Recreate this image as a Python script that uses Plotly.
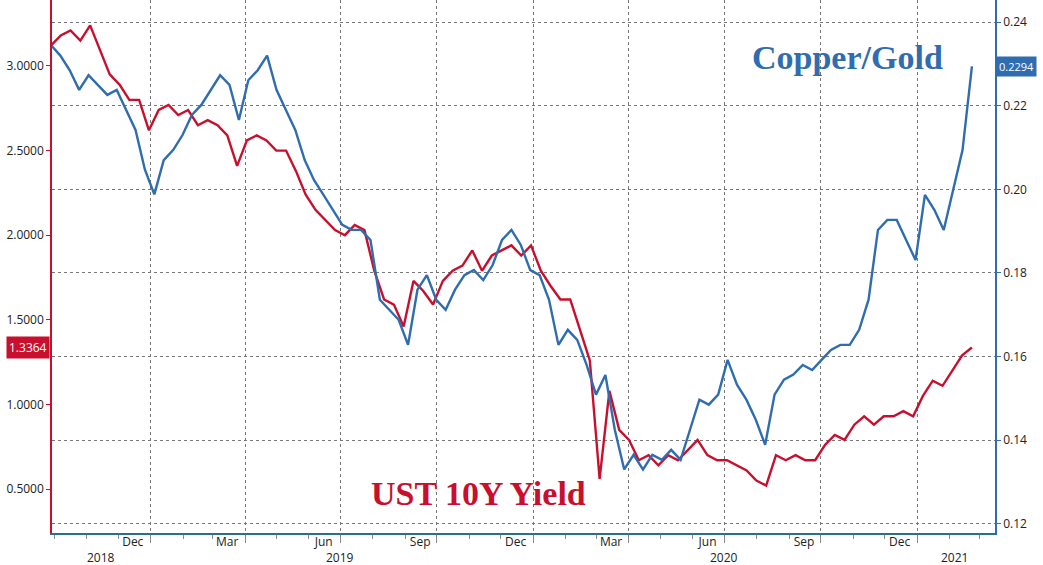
import pandas as pd
import plotly.graph_objects as go

# UST 10Y yield, roughly every 10 days from Oct 2018 to late Feb 2021
ust_10y = [3.12, 3.18, 3.21, 3.15, 3.24, 3.09, 2.95, 2.89, 2.80, 2.80, 2.62, 2.74, 2.77, 2.71,
           2.74, 2.65, 2.68, 2.65, 2.59, 2.41, 2.56, 2.59, 2.56, 2.50, 2.50, 2.38, 2.24, 2.15,
           2.09, 2.03, 2.00, 2.06, 2.03, 1.79, 1.62, 1.59, 1.46, 1.73, 1.67, 1.59, 1.73, 1.79,
           1.82, 1.91, 1.79, 1.88, 1.91, 1.94, 1.88, 1.94, 1.79, 1.70, 1.62, 1.62, 1.44, 1.26,
           0.56, 1.08, 0.85, 0.79, 0.67, 0.70, 0.64, 0.70, 0.67, 0.73, 0.79, 0.70, 0.67, 0.67,
           0.64, 0.61, 0.55, 0.52, 0.70, 0.67, 0.70, 0.67, 0.67, 0.76, 0.82, 0.79, 0.88, 0.93,
           0.88, 0.93, 0.93, 0.96, 0.93, 1.05, 1.14, 1.11, 1.20, 1.29, 1.3364]

# Copper / gold ratio
copper_gold = [0.2345, 0.2320, 0.2285, 0.2238, 0.2273, 0.2250, 0.2226, 0.2238, 0.2190, 0.2142,
               0.2047, 0.1988, 0.2070, 0.2094, 0.2130, 0.2178, 0.2202, 0.2238, 0.2273, 0.2250,
               0.2166, 0.2261, 0.2285, 0.2320, 0.2238, 0.2190, 0.2142, 0.2070, 0.2022, 0.1987,
               0.1951, 0.1915, 0.1903, 0.1903, 0.1879, 0.1736, 0.1712, 0.1688, 0.1628, 0.1760,
               0.1795, 0.1736, 0.1712, 0.1760, 0.1795, 0.1807, 0.1783, 0.1819, 0.1879, 0.1903,
               0.1867, 0.1807, 0.1795, 0.1736, 0.1628, 0.1664, 0.1640, 0.1580, 0.1509, 0.1556,
               0.1425, 0.1330, 0.1365, 0.1330, 0.1365, 0.1353, 0.1377, 0.1353, 0.1425, 0.1497,
               0.1485, 0.1509, 0.1592, 0.1533, 0.1497, 0.1449, 0.1389, 0.1509, 0.1545, 0.1557,
               0.1580, 0.1568, 0.1592, 0.1616, 0.1628, 0.1628, 0.1664, 0.1736, 0.1903, 0.1927,
               0.1927, 0.1879, 0.1831, 0.1987, 0.1951, 0.1903, 0.1998, 0.2094, 0.2294]

start, end = '2018-09-28', '2021-02-22'
ust_dates = pd.date_range(start, end, periods=len(ust_10y))
cg_dates = pd.date_range(start, end, periods=len(copper_gold))

month_labels = ['Dec', 'Mar', 'Jun', 'Sep', 'Dec', 'Mar', 'Jun', 'Sep', 'Dec']
month_pos = ['2018-12-15', '2019-03-15', '2019-06-15', '2019-09-15', '2019-12-15',
             '2020-03-15', '2020-06-15', '2020-09-15', '2020-12-15']
grid_pos = ['2019-01-01', '2019-04-01', '2019-07-01', '2019-10-01', '2020-01-01',
            '2020-04-01', '2020-07-01', '2020-10-01', '2021-01-01']
years = ['2018', '2019', '2020', '2021']
year_pos = ['2018-11-15', '2019-07-01', '2020-07-01', '2021-02-05']

RED = '#c8102e'
BLUE = '#2f6db0'
xr = ['2018-09-29', '2021-03-16']

fig = go.Figure()
fig.add_trace(go.Scatter(x=ust_dates, y=ust_10y, mode='lines', line=dict(color=RED, width=2.4),
                         name='UST 10Y Yield', yaxis='y'))
fig.add_trace(go.Scatter(x=cg_dates, y=copper_gold, mode='lines', line=dict(color=BLUE, width=2.4),
                         name='Copper/Gold', yaxis='y2'))
# invisible trace to host the month-label axis
fig.add_trace(go.Scatter(x=[ust_dates[0]], y=[ust_10y[0]], mode='markers', marker=dict(opacity=0),
                         xaxis='x2', showlegend=False, hoverinfo='skip'))

fig.update_layout(
    width=1043, height=565, showlegend=False,
    paper_bgcolor='white', plot_bgcolor='white',
    margin=dict(l=52, r=48, t=0, b=32),
    font=dict(family='Open Sans, DejaVu Sans', size=12, color='#222'),
    xaxis=dict(type='date', range=xr, tickvals=grid_pos, showticklabels=False, automargin=False,
               showgrid=True, gridcolor='#777', griddash='dot', gridwidth=1,
               ticks='outside', ticklen=8, tickcolor='#888',
               minor=dict(dtick='M1', ticks='outside', ticklen=4, tickcolor='#888', showgrid=False),
               showline=True, linecolor='#2a6f8f', linewidth=2, zeroline=False),
    xaxis2=dict(type='date', range=xr, overlaying='x', side='bottom', tickvals=month_pos,
                ticktext=month_labels, ticks='', showgrid=False, showline=False, automargin=False,
                tickfont=dict(size=12, color='#222')),
    yaxis=dict(range=[0.24, 3.39], tickvals=[0.5, 1.0, 1.5, 2.0, 2.5, 3.0], tickformat='.4f',
               showgrid=False, zeroline=False, showline=True, linecolor=RED, linewidth=1.5,
               ticks='outside', ticklen=4, tickcolor=RED, tickfont=dict(size=12), automargin=False),
    yaxis2=dict(range=[0.1178, 0.2453], overlaying='y', side='right',
                tickvals=[0.12, 0.14, 0.16, 0.18, 0.20, 0.22, 0.24], tickformat='.2f',
                showgrid=True, gridcolor='#777', griddash='dot', zeroline=False,
                showline=True, linecolor=BLUE, linewidth=1.5, automargin=False,
                ticks='outside', ticklen=4, tickcolor=BLUE, tickfont=dict(size=12)),
)

for yr, pos in zip(years, year_pos):
    fig.add_annotation(x=pos, y=0, xref='x', yref='paper', yshift=-24, yanchor='middle',
                       text=yr, showarrow=False, font=dict(size=12, color='#222'))

fig.add_annotation(x=0.844, y=0.893, xref='paper', yref='paper', xanchor='center', yanchor='middle',
                   text='<b>Copper/Gold</b>', showarrow=False,
                   font=dict(family='Liberation Serif', size=34, color=BLUE))
fig.add_annotation(x=0.452, y=0.075, xref='paper', yref='paper', xanchor='center', yanchor='middle',
                   text='<b>UST 10Y Yield</b>', showarrow=False,
                   font=dict(family='Liberation Serif', size=34, color=RED))

# last-value tags on both axes
fig.add_annotation(x=1, xref='paper', y=copper_gold[-1], yref='y2', xanchor='left', xshift=1,
                   text=f'{copper_gold[-1]:.4f}', showarrow=False, bgcolor=BLUE, borderpad=2,
                   font=dict(color='white', size=11))
fig.add_annotation(x=0, xref='paper', y=ust_10y[-1], yref='y', xanchor='right', xshift=-2,
                   text=f'{ust_10y[-1]:.4f}', showarrow=False, bgcolor=RED, borderpad=2,
                   font=dict(color='white', size=12))

# drop the default page margin so the figure sits at the window's corner
fig.write_html('out.html', config={'displayModeBar': False},
               post_script="document.body.style.margin='0';")
